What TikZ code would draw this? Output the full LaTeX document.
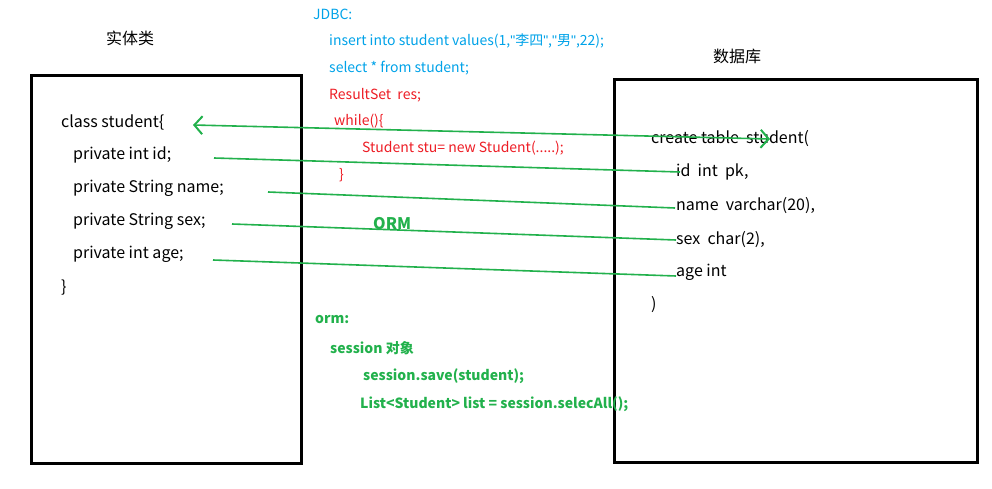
\documentclass[tikz,border=0pt]{standalone}
\usepackage{fontspec}
\setmainfont{Noto Sans CJK SC}
\newfontfamily\quotefont{Liberation Sans}
\usetikzlibrary{arrows.meta}
\definecolor{ormgreen}{RGB}{34,177,76}
\definecolor{jdbcblue}{RGB}{0,162,232}
\definecolor{jdbcred}{RGB}{237,28,36}
\newcommand{\dq}{{\quotefont\symbol{34}}}
\tikzset{
  codebox/.style={draw, line width=3pt},
  code/.style={anchor=west, inner sep=0pt, font=\fontsize{16}{16}\selectfont},
  jdbc/.style={anchor=west, inner sep=0pt, text=jdbcblue, font=\fontsize{14}{14}\selectfont},
  jdbcr/.style={jdbc, text=jdbcred},
  orm/.style={anchor=west, inner sep=0pt, text=ormgreen, font=\bfseries\fontsize{14}{14}\selectfont},
  link/.style={ormgreen, line width=1.6pt}
}
\begin{document}
\begin{tikzpicture}[x=1pt,y=-1pt]
  \useasboundingbox (0,0) rectangle (992,489);
  % the two boxes
  \draw [codebox] (31,76) rectangle (301,463);
  \draw [codebox] (614,80) rectangle (977,462);
  \node (ent) at (130,38) {\fontsize{16}{16}\selectfont 实体类};
  \node (db) at (737,56) {\fontsize{16}{16}\selectfont 数据库};
  % class
  \node [code] (cls) at (61,122) {class student\{};
  \node [code] (cid) at (73,155) {private int id;};
  \node [code] (cname) at (73,188) {private String name;};
  \node [code] (csex) at (73,221) {private String sex;};
  \node [code] (cage) at (73,254) {private int age;};
  \node [code] at (61,288) {\}};
  % table
  \node [code] (tbl) at (651,139) {create table\ \ student(};
  \node [code] (tid) at (676,172) {id\ \ int\ \ pk,};
  \node [code] (tname) at (676,206) {name\ \ varchar(20),};
  \node [code] (tsex) at (676,240) {sex\ \ char(2),};
  \node [code] (tage) at (676,272) {age int};
  \node [code] at (651,305) {)};
  % jdbc
  \node [jdbc] at (313,14) {JDBC:};
  \node [jdbc] at (329,41) {insert into student values(1,\dq 李四\dq,\dq 男\dq,22);};
  \node [jdbc] at (329,68) {select * from student;};
  \node [jdbcr] at (329,95) {ResultSet\ \ res;};
  \node [jdbcr] at (334,121) {while()\{};
  \node [jdbcr] at (362,148) {Student stu= new Student(.....);};
  \node [jdbcr] at (339,175) {\}};
  % orm
  \node [orm, font=\bfseries\fontsize{16}{16}\selectfont] at (373,224) {ORM};
  \node [orm] at (315,320) {orm:};
  \node [orm] at (330,348) {session 对象};
  \node [orm] at (363,376) {session.save(student);};
  \node [orm] at (360,404) {List<Student> list = session.selecAll();};
  % mapping lines
  \coordinate (a1) at (193,125); \coordinate (b1) at (770,139);
  \coordinate (a2) at (214,158); \coordinate (b2) at (680,172);
  \coordinate (a3) at (268,192); \coordinate (b3) at (675,208);
  \coordinate (a4) at (232,224); \coordinate (b4) at (676,240);
  \coordinate (a5) at (213,260); \coordinate (b5) at (676,276);
  \draw [link, {Straight Barb[length=8pt,width=18pt,line width=2pt]}-{Straight Barb[length=8pt,width=18pt,line width=2pt]}] (a1) -- (b1);
  \foreach \i in {2,...,5}
    \draw [link] (a\i) -- (b\i);
\end{tikzpicture}
\end{document}
